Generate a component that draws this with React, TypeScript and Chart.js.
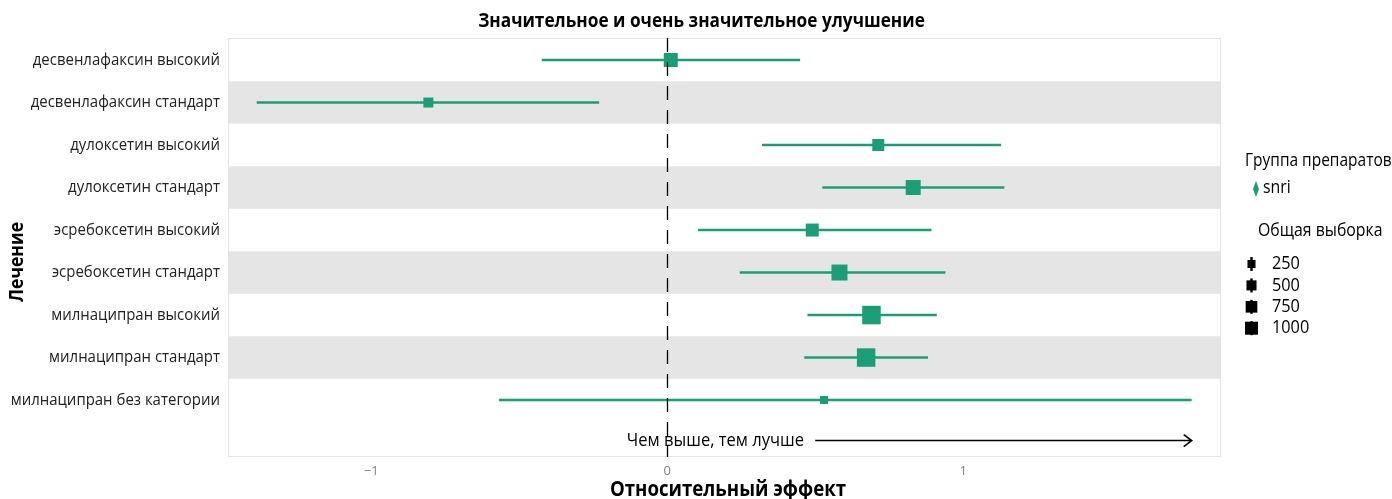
import React, { useEffect, useRef } from "react";
import { Chart, registerables } from "chart.js";

Chart.register(...registerables);

const treatments = [
  "десвенлафаксин высокий",
  "десвенлафаксин стандарт",
  "дулоксетин высокий",
  "дулоксетин стандарт",
  "эсребоксетин высокий",
  "эсребоксетин стандарт",
  "милнаципран высокий",
  "милнаципран стандарт",
  "милнаципран без категории",
];
const estimates = [0.012, -0.807, 0.713, 0.831, 0.49, 0.582, 0.69, 0.672, 0.53];
const lowerCI = [-0.424, -1.387, 0.32, 0.524, 0.104, 0.245, 0.474, 0.463, -0.569];
const upperCI = [0.449, -0.23, 1.128, 1.139, 0.893, 0.94, 0.911, 0.881, 1.772];
const sampleSizes = [1210, 490, 810, 1440, 1000, 1690, 2410, 2400, 250];
const sizeLegendValues = [250, 500, 750, 1000];
const drugGroups = ["snri"];
const xTickValues = [-1, 0, 1];

const TITLE = "Значительное и очень значительное улучшение";
const X_TITLE = "Относительный эффект";
const Y_TITLE = "Лечение";
const NOTE = "Чем выше, тем лучше";
const NOTE_TEXT_X = 0.462;
const ARROW_FROM = 0.5;
const ARROW_TO = 1.772;
const GROUP_TITLE = "Группа препаратов";
const SIZE_TITLE = "Общая выборка";

const GREEN = "#1b9e77";
const FONT = "'Open Sans', 'Noto Sans', sans-serif";
const SQUEEZE = 0.88;

const sideFor = (n: number) => 3 + 0.316 * Math.sqrt(n);

function txt(
  ctx: CanvasRenderingContext2D,
  s: string,
  x: number,
  y: number,
  size: number,
  opts: { bold?: boolean; align?: CanvasTextAlign; color?: string; rotate?: number } = {}
) {
  ctx.save();
  ctx.font = `${opts.bold ? "bold " : ""}${size}px ${FONT}`;
  ctx.fillStyle = opts.color || "#000";
  ctx.textAlign = opts.align || "left";
  ctx.textBaseline = "middle";
  ctx.translate(x, y);
  if (opts.rotate) ctx.rotate(opts.rotate);
  ctx.scale(SQUEEZE, 1);
  ctx.fillText(s, 0, 0);
  ctx.restore();
}

const decorPlugin = {
  id: "decor",
  beforeDatasetsDraw(chart: any) {
    const { ctx, chartArea: ca, scales } = chart;
    const y = scales.y;
    ctx.save();
    treatments.forEach((_, i) => {
      if (i % 2 === 1) {
        const t = y.getPixelForValue(i + 0.5);
        const b = y.getPixelForValue(i + 1.5);
        ctx.fillStyle = "#e5e5e5";
        ctx.fillRect(ca.left, t, ca.right - ca.left, b - t);
      }
    });
    ctx.strokeStyle = "#e3e3e3";
    ctx.lineWidth = 1;
    ctx.strokeRect(ca.left + 0.5, ca.top + 0.5, ca.right - ca.left - 1, ca.bottom - ca.top - 1);
    ctx.restore();
  },
  afterDatasetsDraw(chart: any) {
    const { ctx, chartArea: ca, scales } = chart;
    const x = scales.x;
    const y = scales.y;
    ctx.save();
    const x0 = Math.round(x.getPixelForValue(0)) + 0.5;
    ctx.strokeStyle = "#000";
    ctx.lineWidth = 1.3;
    ctx.setLineDash([14, 10]);
    ctx.beginPath();
    ctx.moveTo(x0, ca.top);
    ctx.lineTo(x0, ca.bottom);
    ctx.stroke();
    ctx.setLineDash([]);
    const ny = y.getPixelForValue(treatments.length + 1) - 2;
    txt(ctx, NOTE, x.getPixelForValue(NOTE_TEXT_X), ny, 18.8, { align: "right" });
    const ax1 = x.getPixelForValue(ARROW_FROM);
    const ax2 = x.getPixelForValue(ARROW_TO);
    ctx.strokeStyle = "#000";
    ctx.lineWidth = 1.6;
    ctx.beginPath();
    ctx.moveTo(ax1, ny);
    ctx.lineTo(ax2, ny);
    ctx.moveTo(ax2 - 8, ny - 6);
    ctx.lineTo(ax2, ny);
    ctx.lineTo(ax2 - 8, ny + 6);
    ctx.stroke();
    ctx.restore();
  },
  afterDraw(chart: any) {
    const { ctx, chartArea: ca, scales } = chart;
    const y = scales.y;
    txt(ctx, TITLE, 701.5, 21, 19.6, { bold: true, align: "center" });
    treatments.forEach((t, i) => {
      txt(ctx, t, ca.left - 8, y.getPixelForValue(i + 1), 17, { align: "right", color: "#222" });
    });
    txt(ctx, X_TITLE, 728, 490, 21.2, { bold: true, align: "center" });
    txt(ctx, Y_TITLE, 17, 262, 20, { bold: true, align: "center", rotate: -Math.PI / 2 });
    txt(ctx, GROUP_TITLE, 1245, 161, 17.6);
    drugGroups.forEach((g, i) => {
      const cy = 189 + i * 22;
      ctx.save();
      ctx.fillStyle = GREEN;
      ctx.beginPath();
      ctx.moveTo(1256, cy - 8);
      ctx.lineTo(1259, cy);
      ctx.lineTo(1256, cy + 8);
      ctx.lineTo(1253, cy);
      ctx.closePath();
      ctx.fill();
      ctx.restore();
      txt(ctx, g, 1263, cy - 1, 18);
    });
    txt(ctx, SIZE_TITLE, 1258, 231, 18);
    sizeLegendValues.forEach((v, i) => {
      const cy = 264 + i * 21.4;
      const s = sideFor(v);
      ctx.save();
      ctx.fillStyle = "#000";
      ctx.fillRect(1251.5 - s / 2, cy - s / 2, s, s);
      ctx.fillRect(1250.3, cy - 7, 2.4, 14);
      ctx.restore();
      txt(ctx, String(v), 1272, cy, 18.5);
    });
  },
};

export default function App() {
  const canvasRef = useRef<HTMLCanvasElement | null>(null);

  useEffect(() => {
    if (!canvasRef.current) return;
    const errorSets = treatments.map((t, i) => ({
      type: "scatter" as const,
      label: t,
      data: [
        { x: lowerCI[i], y: i + 1 },
        { x: upperCI[i], y: i + 1 },
      ],
      showLine: true,
      borderColor: GREEN,
      borderWidth: 2.6,
      pointRadius: 0,
      pointHoverRadius: 0,
      order: 2,
    }));
    const pointSet = {
      type: "scatter" as const,
      label: "estimate",
      data: estimates.map((v, i) => ({ x: v, y: i + 1 })),
      pointStyle: "rect",
      pointRadius: sampleSizes.map((n) => sideFor(n) / 2 / Math.SQRT1_2),
      backgroundColor: GREEN,
      borderWidth: 0,
      order: 1,
    };
    const chart = new Chart(canvasRef.current, {
      type: "scatter",
      data: { datasets: [...errorSets, pointSet] as any },
      options: {
        animation: false,
        responsive: false,
        events: [],
        layout: { padding: { left: 228, right: 171, top: 38, bottom: 0 } },
        plugins: { legend: { display: false }, tooltip: { enabled: false }, title: { display: false } },
        scales: {
          x: {
            type: "linear",
            min: -1.484,
            max: 1.871,
            grid: { display: false, drawTicks: false },
            border: { display: false },
            afterBuildTicks: (scale: any) => {
              scale.ticks = xTickValues.map((v) => ({ value: v }));
            },
            afterFit: (scale: any) => {
              scale.height = 42;
            },
            ticks: {
              padding: 6,
              color: "#808080",
              font: { family: "'Open Sans', sans-serif", size: 13 },
              callback: (v: any) => (Number(v) < 0 ? "−" + Math.abs(Number(v)) : String(v)),
            },
          },
          y: {
            type: "linear",
            display: false,
            reverse: true,
            min: 0.482,
            max: 10.34,
          },
        },
      },
      plugins: [decorPlugin],
    });
    return () => chart.destroy();
  }, []);

  return (
    <div style={{ position: "fixed", left: 0, top: 0, width: 1392, height: 499, background: "#fff" }}>
      <canvas ref={canvasRef} width={1392} height={499} style={{ width: 1392, height: 499 }} />
    </div>
  );
}
